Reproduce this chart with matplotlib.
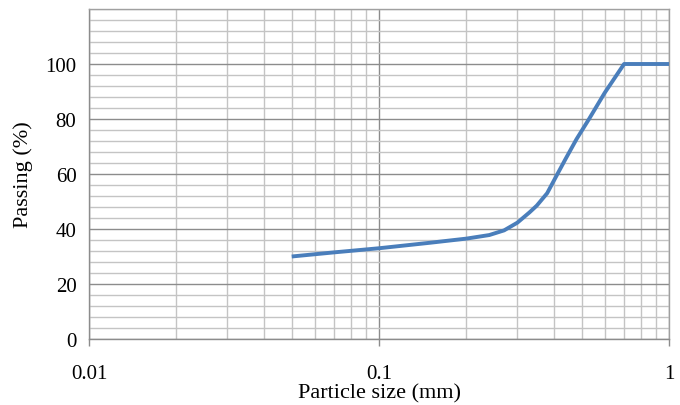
import matplotlib
matplotlib.use("Agg")
import matplotlib.pyplot as plt
from matplotlib.ticker import LogLocator, FixedLocator, MultipleLocator, NullFormatter

# Data
particle_size_mm = [0.05, 0.07, 0.1, 0.15, 0.2, 0.24, 0.27, 0.3, 0.33, 0.35, 0.38, 0.41,
                    0.44, 0.48, 0.53, 0.6, 0.7, 1.0]
passing_pct = [30, 31.5, 33, 35, 36.5, 37.8, 39.5, 42.3, 46, 48.5, 53, 59.5,
               65.5, 72.7, 80, 89.5, 100, 100]
x_tick_labels = ["0.01", "0.1", "1"]
x_ticks = [0.01, 0.1, 1]
y_ticks = [0, 20, 40, 60, 80, 100]

plt.rcParams['font.family'] = ['Liberation Serif', 'DejaVu Serif']

fig = plt.figure(figsize=(6.8, 4.06), dpi=100)
ax = fig.add_axes([89/680, 66/406, 580/680, 330/406])

ax.plot(particle_size_mm, passing_pct, color='#4A7EBB', linewidth=2.8,
        solid_capstyle='butt', solid_joinstyle='round', zorder=3)

ax.set_xscale('log')
ax.set_xlim(0.01, 1)
ax.set_ylim(0, 120)

ax.xaxis.set_major_locator(FixedLocator(x_ticks))
ax.set_xticklabels(x_tick_labels)
ax.xaxis.set_minor_locator(LogLocator(base=10, subs=range(2, 10)))
ax.xaxis.set_minor_formatter(NullFormatter())
ax.yaxis.set_major_locator(FixedLocator(y_ticks))
ax.yaxis.set_minor_locator(MultipleLocator(4))

ax.grid(which='major', color='#8c8c8c', linewidth=1.0)
ax.grid(which='minor', color='#c4c4c4', linewidth=1.0)
ax.set_axisbelow(True)

for s in ['top', 'right']:
    ax.spines[s].set_color('#a0a0a0')
    ax.spines[s].set_linewidth(1.0)
for s in ['left', 'bottom']:
    ax.spines[s].set_color('#8c8c8c')
    ax.spines[s].set_linewidth(1.0)

ax.tick_params(axis='x', which='major', length=5, width=1, color='#8c8c8c',
               direction='out', pad=13, labelsize=15)
ax.tick_params(axis='x', which='minor', length=0)
ax.tick_params(axis='y', which='both', length=0, pad=9, labelsize=15)

ax.set_xlabel('Particle size (mm)', fontsize=16, labelpad=0)
ax.set_ylabel('Passing (%)', fontsize=16, labelpad=9)

fig.savefig('out.png', dpi=100)
